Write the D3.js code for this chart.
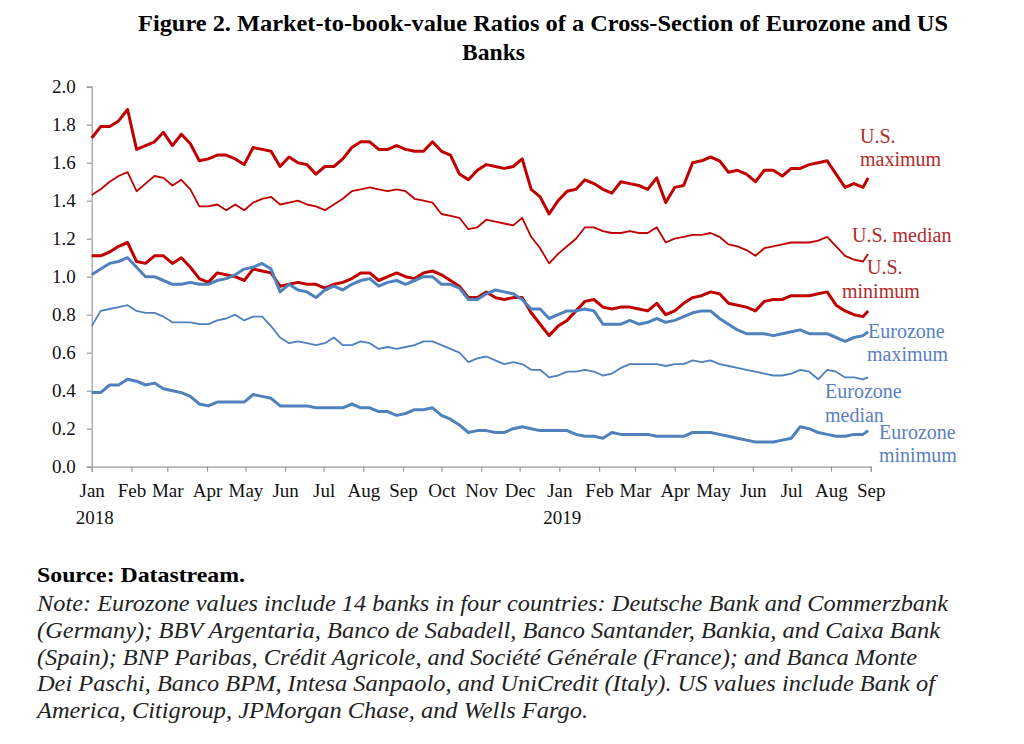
<!DOCTYPE html>
<html>
<head>
<meta charset="utf-8">
<script src="https://cdn.jsdelivr.net/npm/d3@7"></script>
<style>
  body { margin: 0; background: #fff; }
  svg { display: block; font-family: "Liberation Serif", "Times New Roman", serif; }
</style>
</head>
<body>
<script>
// weekly readings (Mondays from 1 Jan 2018), last point is 30 Aug 2019
var usMax = [1.73,1.79,1.79,1.82,1.88,1.67,1.69,1.71,1.76,1.69,1.75,1.70,1.61,1.62,1.64,1.64,1.62,1.59,1.68,1.67,1.66,1.58,1.63,1.60,1.59,1.54,1.58,1.58,1.62,1.68,1.71,
  1.71,1.67,1.67,1.69,1.67,1.66,1.66,1.71,1.66,1.64,1.54,1.51,1.56,1.59,1.58,1.57,1.58,1.62,1.46,1.42,1.33,1.40,1.45,1.46,1.51,1.49,1.46,1.44,1.50,1.49,1.48,1.46,1.52,1.39,1.47,1.48,
  1.60,1.61,1.63,1.61,1.55,1.56,1.54,1.50,1.56,1.56,1.53,1.57,1.57,1.59,1.60,1.61,1.54,1.47,1.49,1.47,1.52];
var usMed = [1.43,1.46,1.50,1.53,1.55,1.45,1.49,1.53,1.52,1.48,1.51,1.46,1.37,1.37,1.38,1.35,1.38,1.35,1.39,1.41,1.42,1.38,1.39,1.40,1.38,1.37,1.35,1.38,1.41,1.45,1.46,
  1.47,1.46,1.45,1.46,1.45,1.41,1.40,1.39,1.33,1.32,1.31,1.25,1.26,1.30,1.29,1.28,1.27,1.31,1.21,1.15,1.07,1.12,1.16,1.20,1.26,1.26,1.24,1.23,1.23,1.24,1.23,1.23,1.26,1.18,1.20,1.21,
  1.22,1.22,1.23,1.21,1.17,1.16,1.14,1.11,1.15,1.16,1.17,1.18,1.18,1.18,1.19,1.21,1.16,1.11,1.09,1.08,1.12];
var usMin = [1.11,1.11,1.13,1.16,1.18,1.08,1.07,1.11,1.11,1.07,1.10,1.05,0.99,0.97,1.02,1.01,1.00,0.98,1.04,1.03,1.02,0.95,0.96,0.97,0.96,0.96,0.94,0.96,0.97,0.99,1.02,
  1.02,0.98,1.00,1.02,1.00,0.99,1.02,1.03,1.01,0.98,0.95,0.89,0.89,0.92,0.89,0.88,0.89,0.89,0.81,0.75,0.69,0.74,0.77,0.82,0.87,0.88,0.84,0.83,0.84,0.84,0.83,0.82,0.86,0.80,0.82,0.86,
  0.89,0.90,0.92,0.91,0.86,0.85,0.84,0.82,0.87,0.88,0.88,0.90,0.90,0.90,0.91,0.92,0.85,0.82,0.80,0.79,0.82];
var euMax = [1.01,1.04,1.07,1.08,1.10,1.05,1.00,1.00,0.98,0.96,0.96,0.97,0.96,0.96,0.98,0.99,1.01,1.04,1.05,1.07,1.04,0.92,0.96,0.93,0.92,0.89,0.93,0.95,0.93,0.96,0.98,
  0.99,0.95,0.97,0.98,0.96,0.98,1.00,1.00,0.96,0.96,0.94,0.88,0.88,0.91,0.93,0.92,0.91,0.88,0.83,0.83,0.78,0.80,0.82,0.82,0.83,0.82,0.75,0.75,0.75,0.77,0.75,0.76,0.78,0.76,0.77,0.79,
  0.81,0.82,0.82,0.78,0.75,0.72,0.70,0.70,0.70,0.69,0.70,0.71,0.72,0.70,0.70,0.70,0.68,0.66,0.68,0.69,0.71];
var euMed = [0.74,0.82,0.83,0.84,0.85,0.82,0.81,0.81,0.79,0.76,0.76,0.76,0.75,0.75,0.77,0.78,0.80,0.77,0.79,0.79,0.74,0.68,0.65,0.66,0.65,0.64,0.65,0.68,0.64,0.64,0.66,
  0.65,0.62,0.63,0.62,0.63,0.64,0.66,0.66,0.64,0.62,0.60,0.55,0.57,0.58,0.56,0.54,0.55,0.54,0.51,0.51,0.47,0.48,0.50,0.50,0.51,0.50,0.48,0.49,0.52,0.54,0.54,0.54,0.54,0.53,0.54,0.54,
  0.56,0.55,0.56,0.54,0.53,0.52,0.51,0.50,0.49,0.48,0.48,0.49,0.51,0.50,0.46,0.51,0.50,0.47,0.47,0.46,0.47];
var euMin = [0.39,0.39,0.43,0.43,0.46,0.45,0.43,0.44,0.41,0.40,0.39,0.37,0.33,0.32,0.34,0.34,0.34,0.34,0.38,0.37,0.36,0.32,0.32,0.32,0.32,0.31,0.31,0.31,0.31,0.33,0.31,
  0.31,0.29,0.29,0.27,0.28,0.30,0.30,0.31,0.27,0.25,0.22,0.18,0.19,0.19,0.18,0.18,0.20,0.21,0.20,0.19,0.19,0.19,0.19,0.17,0.16,0.16,0.15,0.18,0.17,0.17,0.17,0.17,0.16,0.16,0.16,0.16,
  0.18,0.18,0.18,0.17,0.16,0.15,0.14,0.13,0.13,0.13,0.14,0.15,0.21,0.20,0.18,0.17,0.16,0.16,0.17,0.17,0.19];

var yTicks = [0, 0.2, 0.4, 0.6, 0.8, 1.0, 1.2, 1.4, 1.6, 1.8, 2.0];
var monthLabels = ["Jan","Feb","Mar","Apr","May","Jun","Jul","Aug","Sep","Oct","Nov","Dec"];
var yearLabels = ["2018", "2019"];

var titleLines = ["Figure 2. Market-to-book-value Ratios of a Cross-Section of Eurozone and US", "Banks"];
var sourceText = "Source: Datastream.";
var noteLines = [
  "Note: Eurozone values include 14 banks in four countries: Deutsche Bank and Commerzbank",
  "(Germany); BBV Argentaria, Banco de Sabadell, Banco Santander, Bankia, and Caixa Bank",
  "(Spain); BNP Paribas, Crédit Agricole, and Société Générale (France); and Banca Monte",
  "Dei Paschi, Banco BPM, Intesa Sanpaolo, and UniCredit (Italy). US values include Bank of",
  "America, Citigroup, JPMorgan Chase, and Wells Fargo."
];

var w = 1024,
    h = 744;

var red = "#c00000",
    blue = "#4f81bd";

var dates = d3.timeMonday.range(new Date(2018, 0, 1), new Date(2019, 7, 27));
dates.push(new Date(2019, 7, 30));

var series = [
  {name: "usMax", values: usMax, color: red, width: 3, label: ["U.S.", "maximum"], lx: [860, 860], ly: [143, 166], lc: "#b22a2a"},
  {name: "usMed", values: usMed, color: red, width: 1.8, label: ["U.S. median"], lx: [852], ly: [242], lc: "#b22a2a"},
  {name: "usMin", values: usMin, color: red, width: 3, label: ["U.S.", "minimum"], lx: [867, 842], ly: [274, 298], lc: "#b22a2a"},
  {name: "euMax", values: euMax, color: blue, width: 3, label: ["Eurozone", "maximum"], lx: [868, 867], ly: [338, 361], lc: "#5a80c0"},
  {name: "euMed", values: euMed, color: blue, width: 1.8, label: ["Eurozone", "median"], lx: [825, 825], ly: [398, 422], lc: "#5a80c0"},
  {name: "euMin", values: euMin, color: blue, width: 3, label: ["Eurozone", "minimum"], lx: [879, 879], ly: [439, 462], lc: "#5a80c0"}
];

var svg = d3.select("body").append("svg")
    .attr("width", w)
    .attr("height", h);

svg.append("rect").attr("width", w).attr("height", h).attr("fill", "#fff");

var x = d3.scaleTime()
    .domain([new Date(2018, 0, 1), new Date(2019, 8, 1)])
    .range([91.7, 870.7]);

var y = d3.scaleLinear()
    .domain([0, 2])
    .range([466.7, 86.7]);

// title
svg.append("text")
    .attr("x", 138).attr("y", 31)
    .attr("font-size", 23).attr("font-weight", "bold")
    .attr("textLength", 810).attr("lengthAdjust", "spacingAndGlyphs")
    .text(titleLines[0]);
svg.append("text")
    .attr("x", 462).attr("y", 60)
    .attr("font-size", 23).attr("font-weight", "bold")
    .attr("textLength", 63).attr("lengthAdjust", "spacingAndGlyphs")
    .text(titleLines[1]);

// y axis
var yAxis = svg.append("g")
    .attr("transform", "translate(" + x.range()[0] + ",0)")
    .call(d3.axisLeft(y).tickValues(yTicks).tickFormat(d3.format(".1f")).tickSize(5).tickPadding(11));

// x axis
var monthTicks = d3.timeMonth.range(new Date(2018, 0, 1), new Date(2019, 8, 2));
var xAxis = svg.append("g")
    .attr("transform", "translate(0," + y(0) + ")")
    .call(d3.axisBottom(x).tickValues(monthTicks)
      .tickFormat(function(d) { return monthLabels[d.getMonth()]; })
      .tickSize(5).tickPadding(12));

[yAxis, xAxis].forEach(function(g) {
  g.select(".domain").attr("stroke", "#9a9a9a").attr("stroke-width", 1.2);
  g.selectAll(".tick line").attr("stroke", "#9a9a9a").attr("stroke-width", 1.2);
  g.selectAll(".tick text")
      .attr("font-family", "Liberation Serif, serif")
      .attr("font-size", 19)
      .attr("fill", "#111");
});

svg.selectAll(".year-label")
    .data(yearLabels)
  .enter().append("text")
    .attr("class", "year-label")
    .attr("x", function(d) { return x(new Date(+d, 0, 1)) + 3; })
    .attr("y", 524)
    .attr("text-anchor", "middle")
    .attr("font-size", 19)
    .attr("fill", "#111")
    .text(function(d) { return d; });

// lines
var line = d3.line()
    .x(function(d, i) { return x(dates[i]); })
    .y(function(d) { return y(d); });

svg.selectAll(".series")
    .data(series)
  .enter().append("path")
    .attr("class", "series")
    .attr("d", function(d) { return line(d.values); })
    .attr("fill", "none")
    .attr("stroke", function(d) { return d.color; })
    .attr("stroke-width", function(d) { return d.width; })
    .attr("stroke-linejoin", "round");

// labels next to the lines
series.forEach(function(s) {
  s.label.forEach(function(t, i) {
    svg.append("text")
        .attr("x", s.lx[i])
        .attr("y", s.ly[i])
        .attr("font-size", 20)
        .attr("fill", s.lc)
        .text(t);
  });
});

// source and note
svg.append("text")
    .attr("x", 37).attr("y", 582)
    .attr("font-size", 22).attr("font-weight", "bold")
    .attr("textLength", 208).attr("lengthAdjust", "spacingAndGlyphs")
    .text(sourceText);

var noteWidths = [911, 903, 880, 898, 551];
svg.selectAll(".note")
    .data(noteLines)
  .enter().append("text")
    .attr("class", "note")
    .attr("x", 37)
    .attr("y", function(d, i) { return 611 + i * 26.8; })
    .attr("font-size", 23)
    .attr("font-style", "italic")
    .attr("fill", "#222")
    .attr("textLength", function(d, i) { return noteWidths[i]; })
    .attr("lengthAdjust", "spacingAndGlyphs")
    .text(function(d) { return d; });
</script>
</body>
</html>
